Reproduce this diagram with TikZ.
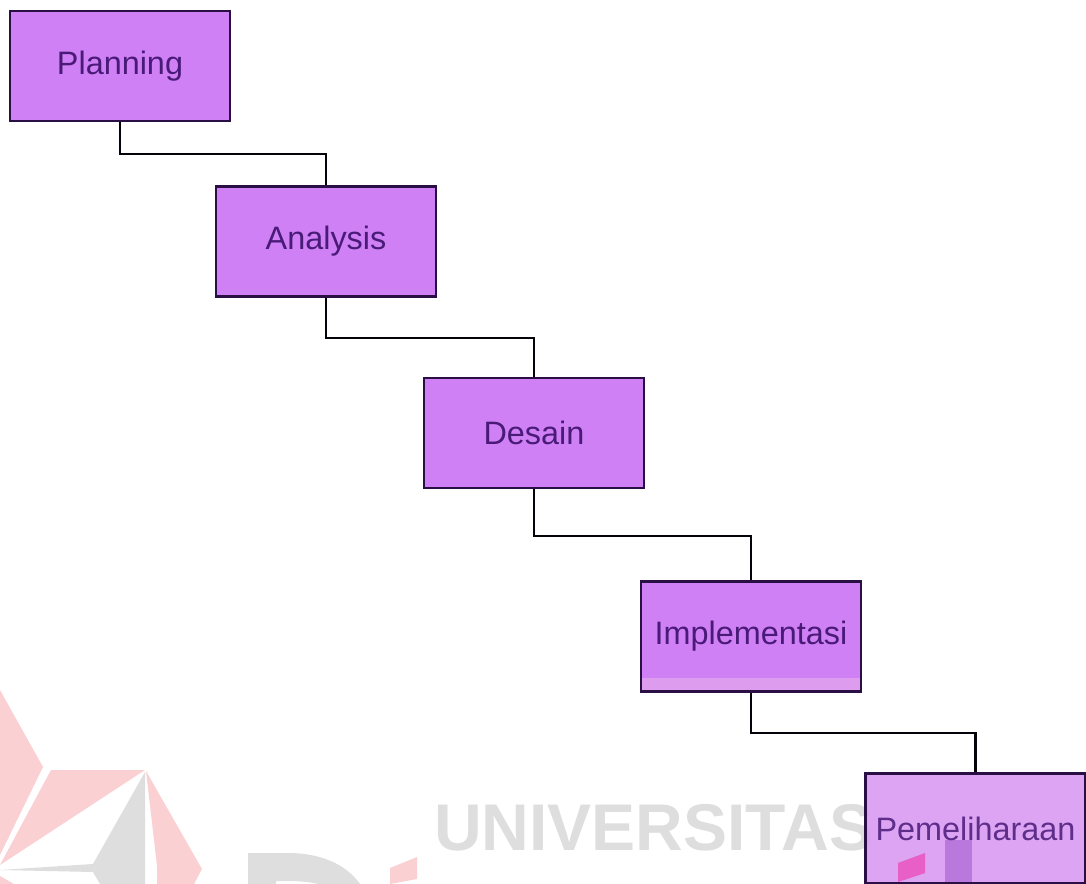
\documentclass[tikz,border=0pt]{standalone}
\usepackage{fontspec}
\setmainfont{Liberation Sans}
\definecolor{boxfill}{HTML}{CF80F5}
\definecolor{boxpale}{HTML}{D898F2}
\definecolor{stripfill}{HTML}{DE9CEE}
\definecolor{edge}{HTML}{2A0F45}
\definecolor{label}{HTML}{4A1A78}
\definecolor{wmgray}{HTML}{DEDEDE}
\definecolor{wmpink}{HTML}{FAD0D3}
\definecolor{quadpink}{HTML}{E85FC8}
\definecolor{barpurple}{HTML}{B878DC}
\tikzset{
  stage/.style={draw=edge,line width=1.9pt,fill=boxfill,text=label,inner sep=0pt,
    minimum width=165pt,minimum height=82.5pt,font=\fontsize{24.3pt}{28pt}\selectfont},
  link/.style={draw=black!85!edge,line width=1.7pt},
  wmp/.style={fill=wmpink},
  wmg/.style={fill=wmgray}
}
\begin{document}
\begin{tikzpicture}[x=0.75pt,y=-0.75pt]
\useasboundingbox (0,0) rectangle (1086,884);
\fill[white] (0,0) rectangle (1086,884);
% watermark
\fill[wmp] (0,690) -- (43,767) -- (0,855) -- cycle;
\fill[wmp] (51,770) -- (145,770) -- (0,865) -- cycle;
\fill[wmp] (146,771) -- (202,869) -- (194,884) -- (157,884) -- (157,866) -- cycle;
\fill[wmp] (0,876) -- (14,884) -- (0,884) -- cycle;
\fill[wmg] (145,772) -- (145,884) -- (100,884) -- (93,872) -- (0,870) -- (93,864) -- cycle;
\fill[wmp] (390,868) -- (417,857) -- (417,879) -- (390,884) -- cycle;
\fill[wmg,even odd rule] (248,853) -- (288,853) .. controls (320,853) and (346,864) .. (360,884) -- (248,884) -- cycle
  (276,881) -- (276,884) -- (318,884) .. controls (310,882) and (300,881) .. (288,881) -- cycle;
\node[anchor=base west,inner sep=0pt,text=wmgray,font=\fontsize{49.5pt}{50pt}\selectfont\bfseries] (wm) at (434,850) {UNIVERSITAS};
% stages
\node[stage] (a) at (120,66) {Planning};
\node[stage] (b) at (326,241.5) {Analysis};
\node[stage] (c) at (534,433) {Desain};
\node[stage,path picture={\fill[stripfill] ([yshift=10.5pt]path picture bounding box.south west) rectangle (path picture bounding box.south east);}] (d) at (751,636.5) {Implementasi};
\node[stage,fill=boxpale,fill opacity=.88,text opacity=1,draw opacity=1] (e) at (975.5,828.5) {};
\fill[quadpink] (898,863) -- (925,853) -- (925,873) -- (898,882) -- cycle;
\fill[barpurple] (945,840) rectangle (972,882);
\node[inner sep=0pt,text=label!85!boxpale,font=\fontsize{24.3pt}{28pt}\selectfont] (et) at (e.center) {Pemeliharaan};
% connectors
\coordinate (ab) at (0,154);
\coordinate (bc) at (0,338);
\coordinate (cd) at (0,536);
\coordinate (de) at (0,733);
\draw[link] (a.south) |- (ab -| b.north) -- (b.north);
\draw[link] (b.south) |- (bc -| c.north) -- (c.north);
\draw[link] (c.south) |- (cd -| d.north) -- (d.north);
\draw[link] (d.south) |- (de -| e.north) -- (e.north);
\end{tikzpicture}
\end{document}
